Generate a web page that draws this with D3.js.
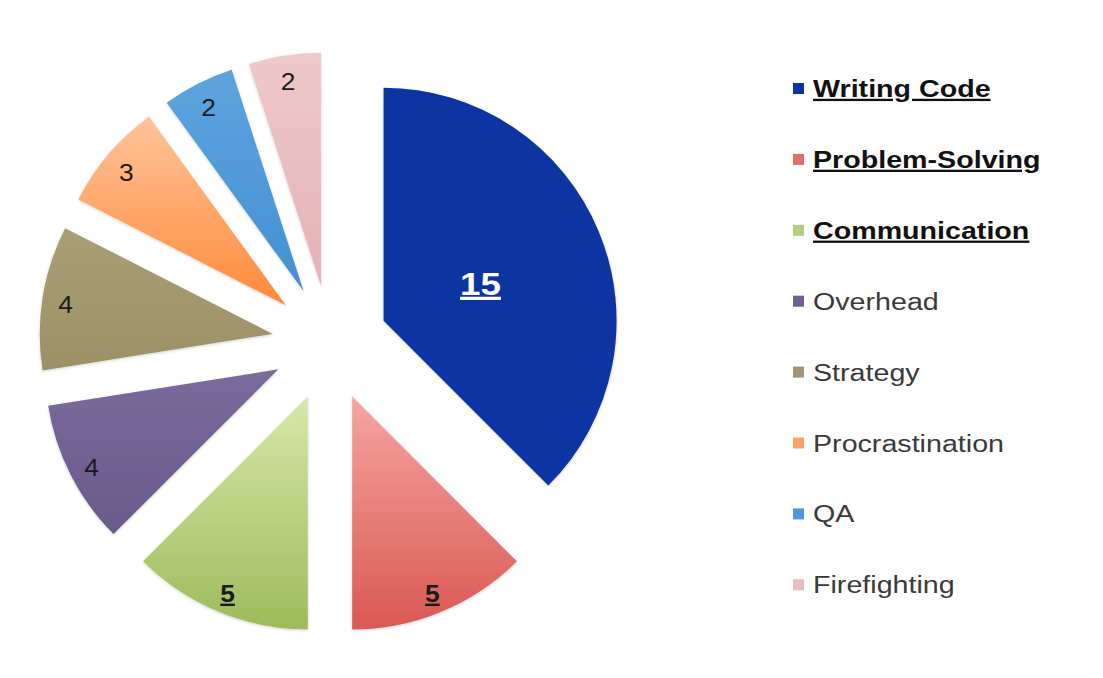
<!DOCTYPE html>
<html>
<head>
<meta charset="utf-8">
<script src="https://cdn.jsdelivr.net/npm/d3@7"></script>
<style>
  body { margin: 0; background: #fff; }
  svg { display: block; font-family: "Liberation Sans", Arial, sans-serif; }
</style>
</head>
<body>
<div id="chart"></div>
<script>
const categories = ["Writing Code", "Problem-Solving", "Communication", "Overhead",
                    "Strategy", "Procrastination", "QA", "Firefighting"];
const values = [15, 5, 5, 4, 4, 3, 2, 2];
const highlighted = ["Writing Code", "Problem-Solving", "Communication"];
const topColors = ["#0b36a1", "#f5a5a1", "#d7e8a9", "#7b6b9c", "#aa9e74", "#ffc39a", "#5da4de", "#eec9c9"];
const bottomColors = ["#0b36a1", "#da5853", "#9dbb5a", "#6a5a8a", "#9d9067", "#ff8a3a", "#4590d3", "#e3b3b6"];
const legendColors = ["#0b36a1", "#e06e6a", "#b3cd7e", "#6f5f8f", "#a39770", "#ffa066", "#4f97d8", "#e8bcc0"];

const width = 1103, height = 678;
const cx = 330, cy = 343, radius = 233, explode = 58;

const svg = d3.select("#chart").append("svg")
    .attr("width", width)
    .attr("height", height);

const data = categories.map((c, i) => ({ name: c, value: values[i], i: i }));

const pie = d3.pie().sort(null).value(d => d.value).startAngle(0).endAngle(2 * Math.PI);
const arc = d3.arc().innerRadius(0).outerRadius(radius);

const defs = svg.append("defs");
data.forEach((d, i) => {
    const g = defs.append("linearGradient")
        .attr("id", "grad" + i)
        .attr("x1", 0).attr("y1", 0).attr("x2", 0).attr("y2", 1);
    g.append("stop").attr("offset", "0%").attr("stop-color", topColors[i]);
    g.append("stop").attr("offset", "100%").attr("stop-color", bottomColors[i]);
});

// soft edge like the original slide
const shadow = defs.append("filter").attr("id", "soft")
    .attr("x", "-10%").attr("y", "-10%").attr("width", "120%").attr("height", "120%");
shadow.append("feDropShadow")
    .attr("dx", 0).attr("dy", 1)
    .attr("stdDeviation", 1.5)
    .attr("flood-color", "#000")
    .attr("flood-opacity", 0.18);

const slices = svg.append("g")
    .attr("transform", `translate(${cx},${cy})`)
    .selectAll("g")
    .data(pie(data))
    .enter().append("g")
    .attr("transform", d => {
        const mid = (d.startAngle + d.endAngle) / 2;
        return `translate(${Math.sin(mid) * explode},${-Math.cos(mid) * explode})`;
    });

slices.append("path")
    .attr("d", arc)
    .attr("fill", d => `url(#grad${d.data.i})`)
    .attr("filter", "url(#soft)");

// data labels
slices.append("text")
    .attr("transform", d => {
        const mid = (d.startAngle + d.endAngle) / 2;
        const r = d.data.value > 10 ? radius * 0.45 : radius * 0.9;
        const sx = d.data.value > 10 ? 1.15 : 1.1;
        return `translate(${Math.sin(mid) * r},${-Math.cos(mid) * r + 3}) scale(${sx},1)`;
    })
    .attr("dy", "0.35em")
    .style("text-anchor", "middle")
    .style("font-size", d => d.data.value > 10 ? "32px" : "24px")
    .style("font-weight", d => highlighted.includes(d.data.name) ? "bold" : "normal")
    .style("text-decoration", d => highlighted.includes(d.data.name) ? "underline" : "none")
    .attr("fill", d => d.data.value > 10 ? "#ffffff" : "#1a1a1a")
    .text(d => d.data.value);

// legend
const legend = svg.append("g")
    .attr("class", "legend")
    .attr("transform", "translate(793,83)");

const rows = legend.selectAll("g")
    .data(data)
    .enter().append("g")
    .attr("transform", (d, i) => `translate(0,${i * 70.9})`);

rows.append("rect")
    .attr("width", 11)
    .attr("height", 11)
    .attr("fill", (d, i) => legendColors[i]);

rows.append("text")
    .attr("transform", "translate(20,14) scale(1.245,1)")
    .style("font-size", "23px")
    .style("font-weight", d => highlighted.includes(d.name) ? "bold" : "normal")
    .style("text-decoration", d => highlighted.includes(d.name) ? "underline" : "none")
    .attr("fill", d => highlighted.includes(d.name) ? "#111" : "#3a3a3a")
    .text(d => d.name);
</script>
</body>
</html>
